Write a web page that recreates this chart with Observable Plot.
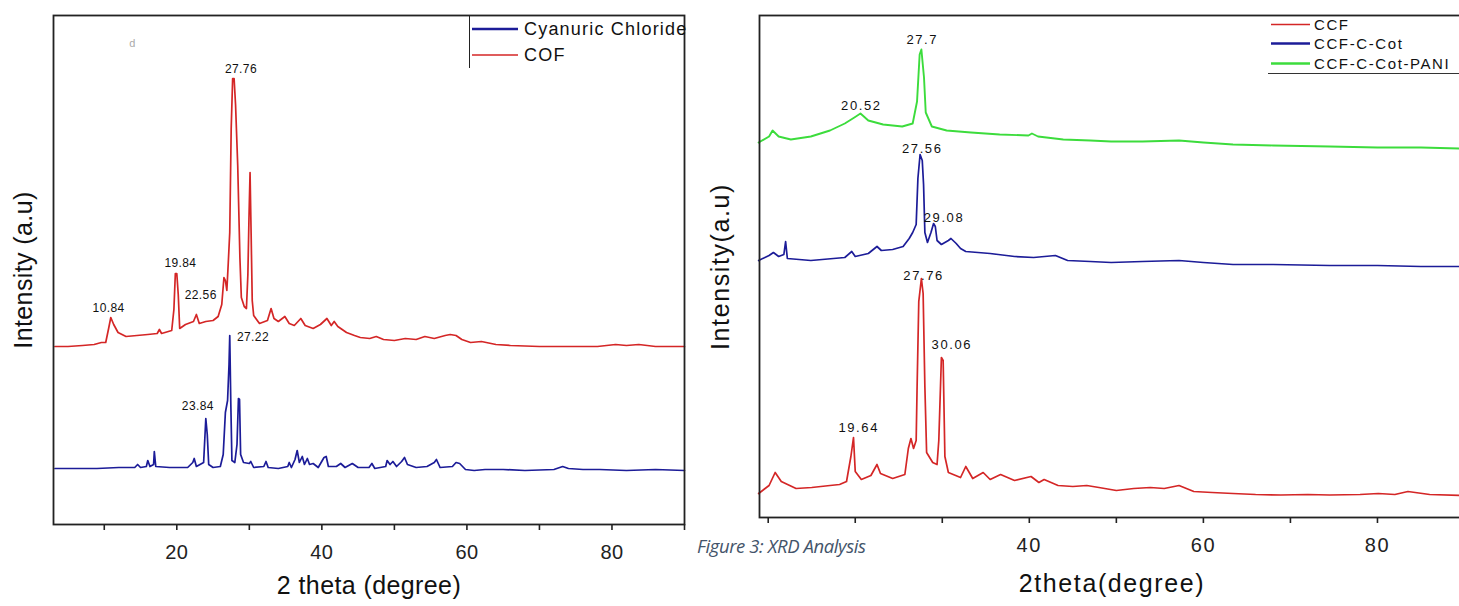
<!DOCTYPE html>
<html>
<head>
<meta charset="utf-8">
<script src="https://cdn.jsdelivr.net/npm/d3@7"></script>
<script src="https://cdn.jsdelivr.net/npm/@observablehq/plot@0.6"></script>
<style>
  html, body { margin: 0; padding: 0; background: #fff; }
  body { width: 1459px; height: 606px; position: relative; overflow: hidden; font-family: "Liberation Sans", Arial, sans-serif; }
  #left { position: absolute; left: 0; top: 0; width: 700px; height: 606px; }
  #right { position: absolute; left: 700px; top: 0; width: 780px; height: 606px; }
  #left svg, #right svg { max-width: none; }
  .rightplot text { letter-spacing: 1.6px; }
  .leftplot text { letter-spacing: 0.4px; }
  .legend { position: absolute; font-family: "Liberation Sans", Arial, sans-serif; color: #111; }
  .legend .item { position: absolute; white-space: nowrap; display: flex; align-items: center; }
  .legend .item svg { display: block; }
  #cap { position: absolute; left: 697px; top: 534px; font-family: "Open Sans", sans-serif; font-style: italic; color: #44546a; font-size: 18.5px; line-height: 24px; letter-spacing: -0.4px; white-space: nowrap; }
</style>
</head>
<body>
<div id="left"></div>
<div id="right"></div>
<div id="legL" class="legend"></div>
<div id="legR" class="legend"></div>
<div id="cap">Figure 3: XRD Analysis</div>
<script>
// ---------- data (2θ in degrees, intensity in arbitrary units) ----------
const xTicks = [10, 20, 30, 40, 50, 60, 70, 80, 90];
const leftTickLabels = [20, 40, 60, 80];
const rightTickLabels = [40, 60, 80];

const leftSeriesNames = ["Cyanuric Chloride", "COF"];
const rightSeriesNames = ["CCF", "CCF-C-Cot", "CCF-C-Cot-PANI"];
const colors = { red: "#d42626", blue: "#1c1c98", green: "#3cdc3c" };

const cof = [
  [3.2,178],[5,178],[7,179],[8.6,180],[9.6,182],[10.2,182],[10.6,196],[10.9,207],[11.3,200],[11.9,192],
  [13.0,188],[14.5,189],[16,190],[17.3,191],[17.6,195],[17.9,191],[19.3,194],[19.6,215],[19.8,251],[20.0,251],
  [20.2,230],[20.4,196],[21.2,200],[22.3,203],[22.7,210],[23.1,201],[24.0,203],[25.0,204],[25.7,208],[26.2,220],
  [26.5,247],[26.7,244],[26.9,234],[27.1,262],[27.3,292],[27.5,396],[27.7,446],[27.9,446],[28.1,420],[28.4,359],
  [28.7,267],[28.9,227],[29.3,218],[29.6,216],[29.8,250],[29.95,306],[30.1,352],[30.25,290],[30.4,224],[30.6,209],
  [31.4,201],[32.5,204],[33.0,216],[33.4,206],[34.0,203],[34.9,208],[35.5,201],[36.2,199],[37.1,206],[37.7,199],
  [38.8,196],[39.8,200],[40.7,206],[41.3,199],[41.7,203],[42.2,198],[43.4,192],[44.5,189],[45.3,187],[46.6,186],
  [47.5,188],[48.5,185],[50,184],[51.5,186],[53,185],[54.2,188],[55.5,186],[57,189],[57.7,190],[58.5,189],
  [59.3,185],[60.5,182],[62,183],[64,180],[66,179],[70,178],[75,178],[78,178],[80.5,180],[82,179],
  [83.7,180],[86,178],[90,178]
];

const cyanuric = [
  [3.2,56],[6,56],[9,56],[12,57],[14.2,57],[14.6,60],[15.0,57],[15.8,58],[16.0,64],[16.3,58],
  [16.8,60],[16.9,73],[17.1,58],[19,57],[21.5,57],[22.2,62],[22.4,66],[22.7,58],[23.7,62],[24.0,106],
  [24.2,90],[24.4,60],[25.0,57],[26.0,58],[26.4,70],[26.7,112],[27.0,124],[27.2,160],[27.3,189],[27.45,120],
  [27.6,64],[28.0,62],[28.3,80],[28.5,126],[28.65,125],[28.8,70],[29.2,62],[30.0,61],[30.2,63],[30.6,57],
  [32.0,58],[32.3,63],[32.6,57],[34.0,56],[35.3,58],[35.5,62],[35.8,57],[36.3,65],[36.6,74],[36.9,62],
  [37.3,68],[37.6,60],[38.0,66],[38.3,60],[38.8,61],[39.5,57],[40.3,67],[40.6,68],[40.9,58],[42,58],
  [42.6,61],[43.2,57],[44.2,61],[45,57],[46.5,57],[46.9,61],[47.3,56],[48.8,58],[49.0,64],[49.4,60],
  [49.8,63],[50.3,58],[51.0,63],[51.4,67],[51.8,60],[53,57],[54.5,58],[55.5,62],[55.8,65],[56.3,57],
  [58,58],[58.5,62],[59.0,61],[59.8,55],[61,54],[62.5,55],[65,55],[68,54],[72,55],[73.2,58],
  [74.0,56],[76,55],[78.3,55],[82,54],[86,55],[90,54]
];

const ccf = [
  [8.9,24],[10.1,32],[10.8,45],[11.5,36],[13.2,29],[15,30],[17.1,32],[18.2,33],[19.0,36],[19.5,61],[19.8,80],
  [20.0,46],[20.7,38],[21.8,42],[22.5,53],[22.9,44],[24.3,39],[25.7,43],[26.1,69],[26.4,79],[26.7,69],
  [27.0,77],[27.1,127],[27.3,216],[27.6,239],[27.8,224],[28.0,131],[28.2,65],[28.9,55],[29.4,53],[29.6,77],
  [29.9,160],[30.1,157],[30.3,61],[30.7,45],[32.1,40],[32.7,51],[33.5,39],[34.7,45],[35.5,38],[36.7,43],
  [38.3,37],[40.2,41],[41.1,35],[41.7,38],[43.3,32],[45,31],[46.6,32],[48,30],[50.0,27],[52,29],[53.9,30],
  [55.5,29],[57.2,32],[58.9,26],[61,25],[63.4,24],[66,23],[68.9,22.5],[72,23],[74.5,22.5],[78,23],[80.1,24],
  [82,23],[83.5,26],[86,23],[89.5,22],[90,22]
];

const ccfCot = [
  [8.9,257],[10.1,262],[10.6,265],[11.2,261],[11.8,263],[12.0,276],[12.2,259],[14.9,257],[18.8,260],[19.6,266],
  [20.0,261],[21.5,264],[22.5,271],[23.0,267],[24.3,268],[25.5,271],[26.2,279],[26.6,285],[27.0,293],[27.2,339],
  [27.45,363],[27.7,357],[27.85,333],[28.0,285],[28.3,275],[28.7,285],[29.0,294],[29.2,291],[29.4,277],[29.9,273],
  [30.7,277],[31.0,279],[31.6,274],[32.1,269],[32.7,266],[35.5,264],[38.3,261],[40.5,260],[43.0,262],[44.4,257],
  [47,256],[49.4,255],[53,256],[57.2,257],[60,255],[63.4,253],[68,253],[74.5,252],[80,252],[85,251],[89.5,251],[90,251]
];

const ccfCotPani = [
  [8.9,375],[10.1,381],[10.5,387],[11.2,381],[12.6,378],[14.9,381],[17.1,387],[18.8,394],[19.9,400],[20.6,404],
  [21.5,397],[23.2,393],[25.4,391],[26.6,394],[27.1,416],[27.4,463],[27.6,468],[27.9,440],[28.1,405],[28.8,391],
  [30.5,387],[33.3,385],[36.6,383],[39.9,382],[40.3,384],[41,381],[43.9,378],[47,377],[49.4,376],[53,376],
  [57.2,377],[60,375],[63.4,373],[68,372],[74.5,371],[80,370],[85,370],[89.5,369],[90,369]
];

// peak annotations
const leftPeakText = ["10.84", "19.84", "22.56", "27.76", "27.22", "23.84"];
const leftPeakX    = [10.6, 20.5, 23.3, 28.85, 30.5, 22.9];
const leftPeakY    = [216, 261, 229, 455, 187, 118];
const rightPeakText = ["27.7", "20.52", "27.56", "29.08", "27.76", "30.06", "19.64"];
const rightPeakX    = [27.7, 20.7, 27.7, 30.2, 27.85, 31.1, 20.4];
const rightPeakY    = [478, 412, 369, 300, 242, 173, 90];
const leftNote = ["d"];   // small stray glyph in the source figure
const leftNoteX = [13.9];
const leftNoteY = [481];

const leftXTitle = "2 theta (degree)";
const rightXTitle = "2theta(degree)";
const leftYTitle = "Intensity (a.u)";
const rightYTitle = "Intensity(a.u)";

// ---------- helpers ----------
const toRows = (pairs) => pairs.map(([x, y]) => ({x, y}));
const toLabels = (t, xs, ys) => t.map((s, i) => ({text: s, x: xs[i], y: ys[i]}));
const axisColor = "#222";

// ---------- left panel ----------
const left = Plot.plot({
  className: "leftplot",
  width: 700, height: 606,
  marginLeft: 53, marginRight: 16, marginTop: 15, marginBottom: 82,
  style: {fontFamily: "Liberation Sans, Arial, sans-serif", background: "transparent", color: "#222", overflow: "visible"},
  x: {domain: [3, 90]},
  y: {domain: [0, 509], axis: null},
  marks: [
    Plot.line(toRows(cyanuric), {x: "x", y: "y", stroke: colors.blue, strokeWidth: 1.7}),
    Plot.line(toRows(cof), {x: "x", y: "y", stroke: colors.red, strokeWidth: 1.7}),
    Plot.text(toLabels(leftPeakText, leftPeakX, leftPeakY), {x: "x", y: "y", text: "text", fontSize: 12, fill: "#111"}),
    Plot.text(toLabels(leftNote, leftNoteX, leftNoteY), {x: "x", y: "y", text: "text", fontSize: 11, fill: "#aaa"}),
    Plot.axisX(xTicks, {tickSize: 6, tickPadding: 14, fontSize: 20, stroke: axisColor, strokeWidth: 1.6, fill: "#222",
      tickFormat: d => leftTickLabels.includes(d) ? String(d) : "", label: null}),
    Plot.text([leftXTitle], {frameAnchor: "bottom", dy: 61, fontSize: 25, fill: "#111", lineAnchor: "middle", textAnchor: "middle"}),
    Plot.text([leftYTitle], {frameAnchor: "left", dx: -30, rotate: -90, fontSize: 25, fill: "#111", lineAnchor: "middle", textAnchor: "middle"}),
    Plot.frame({stroke: axisColor, strokeWidth: 1.8})
  ]
});
document.getElementById("left").appendChild(left);

// ---------- right panel ----------
const right = Plot.plot({
  className: "rightplot",
  width: 780, height: 606,
  marginLeft: 59, marginRight: 16, marginTop: 15, marginBottom: 89,
  style: {fontFamily: "Liberation Sans, Arial, sans-serif", background: "transparent", color: "#222", overflow: "visible"},
  x: {domain: [9, 90]},
  y: {domain: [0, 502], axis: null},
  marks: [
    Plot.line(toRows(ccf), {x: "x", y: "y", stroke: colors.red, strokeWidth: 1.7}),
    Plot.line(toRows(ccfCot), {x: "x", y: "y", stroke: colors.blue, strokeWidth: 1.7}),
    Plot.line(toRows(ccfCotPani), {x: "x", y: "y", stroke: colors.green, strokeWidth: 1.9}),
    Plot.text(toLabels(rightPeakText, rightPeakX, rightPeakY), {x: "x", y: "y", text: "text", fontSize: 13, fill: "#111"}),
    Plot.axisX(xTicks, {tickSize: 6, tickPadding: 14, fontSize: 20, stroke: axisColor, strokeWidth: 1.6, fill: "#222",
      tickFormat: d => rightTickLabels.includes(d) ? String(d) : "", label: null}),
    Plot.text([rightXTitle], {frameAnchor: "bottom", dy: 66, fontSize: 25, fill: "#111", lineAnchor: "middle", textAnchor: "middle"}),
    Plot.text([rightYTitle], {frameAnchor: "left", dx: -39, rotate: -90, fontSize: 25, fill: "#111", lineAnchor: "middle", textAnchor: "middle"}),
    Plot.frame({stroke: axisColor, strokeWidth: 1.8})
  ]
});
document.getElementById("right").appendChild(right);

// ---------- legends (HTML overlays) ----------
function buildLegend(el, box, items) {
  Object.assign(el.style, box.style);
  items.forEach(it => {
    const d = document.createElement("div");
    d.className = "item";
    Object.assign(d.style, {left: it.left + "px", top: it.top + "px", height: it.h + "px", fontSize: it.fontSize + "px", letterSpacing: it.ls + "px"});
    const s = d3.create("svg").attr("width", it.lineW).attr("height", it.h);
    s.append("line").attr("x1", 0).attr("x2", it.lineW).attr("y1", it.h / 2).attr("y2", it.h / 2)
      .attr("stroke", it.color).attr("stroke-width", it.sw);
    d.appendChild(s.node());
    const t = document.createElement("span");
    t.textContent = it.label;
    t.style.marginLeft = it.gap + "px";
    d.appendChild(t);
    el.appendChild(d);
  });
}
buildLegend(document.getElementById("legL"),
  {style: {left: "469px", top: "15px", width: "215px", height: "53px", borderLeft: "1.6px solid #222"}},
  [
    {label: leftSeriesNames[0], color: colors.blue, sw: 2.6, left: 2, top: 2, h: 24, lineW: 46, gap: 6, fontSize: 18, ls: 1.2},
    {label: leftSeriesNames[1], color: colors.red, sw: 1.4, left: 2, top: 28, h: 24, lineW: 46, gap: 6, fontSize: 18, ls: 1.2}
  ]);
buildLegend(document.getElementById("legR"),
  {style: {left: "1268px", top: "15px", width: "200px", height: "58px", borderBottom: "1.6px solid #333"}},
  [
    {label: rightSeriesNames[0], color: colors.red, sw: 1.4, left: 3, top: 0, h: 19, lineW: 39, gap: 4, fontSize: 15, ls: 1.6},
    {label: rightSeriesNames[1], color: colors.blue, sw: 2.6, left: 3, top: 19, h: 19, lineW: 39, gap: 4, fontSize: 15, ls: 1.6},
    {label: rightSeriesNames[2], color: colors.green, sw: 2.6, left: 3, top: 39, h: 19, lineW: 39, gap: 4, fontSize: 15, ls: 1.6}
  ]);
</script>
</body>
</html>
